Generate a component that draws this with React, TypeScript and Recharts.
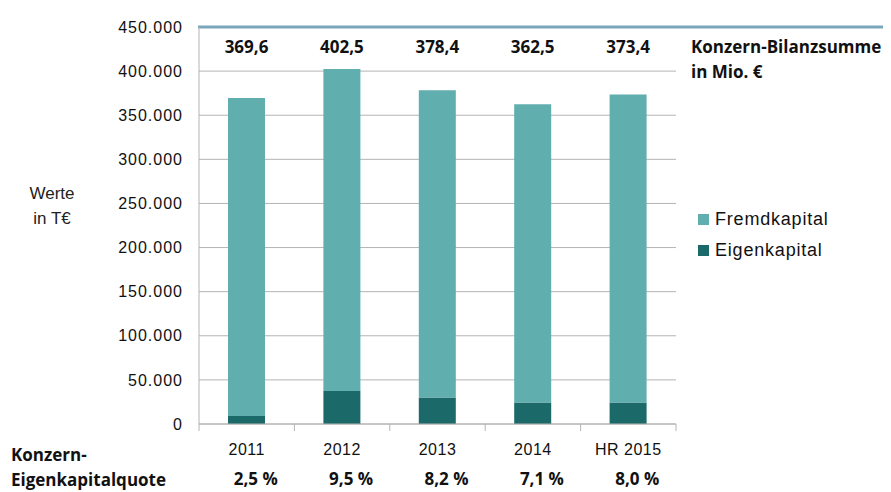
import { BarChart, Bar, XAxis, YAxis, CartesianGrid, Legend, ReferenceLine, LabelList } from 'recharts';

// values (T€ for the bars, Mio. € for the totals)
const years = ['2011', '2012', '2013', '2014', 'HR 2015'];
const totals = [369.6, 402.5, 378.4, 362.5, 373.4];
const eigenkapital = [9000, 37500, 30000, 24500, 24500];
const quoten = ['2,5 %', '9,5 %', '8,2 %', '7,1 %', '8,0 %'];
const yTicks = [0, 50000, 100000, 150000, 200000, 250000, 300000, 350000, 400000, 450000];

const data = years.map((year, i) => ({
  year,
  eigen: eigenkapital[i],
  fremd: Math.round(totals[i] * 1000) - eigenkapital[i],
  total: totals[i].toFixed(1).replace('.', ','),
  quote: quoten[i],
}));

const W = 891;
const H = 492;
const M = { top: 27, right: 215, bottom: 67, left: 0 };
const Y_W = 199;
const SLOT = (W - Y_W - M.right) / years.length;

const FREMD = '#60aeae';
const EIGEN = '#1c6969';
const GRID = '#b4b4b4';
const SANS = '"Liberation Sans", Arial, sans-serif';
const BOLD = '"Open Sans", "Liberation Sans", sans-serif';

const fmt = (v: number) => v.toLocaleString('de-DE');

function XTick(props: any) {
  const { x, y, payload, index } = props;
  const q = data[index]?.quote;
  return (
    <g>
      <line x1={x - SLOT / 2} x2={x - SLOT / 2} y1={y} y2={y + 7} stroke={GRID} />
      {index === years.length - 1 && (
        <line x1={x + SLOT / 2} x2={x + SLOT / 2} y1={y} y2={y + 7} stroke={GRID} />
      )}
      <text x={x} y={y + 31} textAnchor="middle" fontFamily={SANS} fontSize={16} letterSpacing={0.5} fill="#111">
        {payload.value}
      </text>
      <text x={x + 9} y={y + 61} textAnchor="middle" fontFamily={BOLD} fontWeight={700} fontSize={17} fill="#111">
        {q}
      </text>
    </g>
  );
}

function TotalLabel(props: any) {
  const { x, width, value } = props;
  return (
    <text x={x + width / 2} y={53} textAnchor="middle" fontFamily={BOLD} fontWeight={700} fontSize={17} fill="#111">
      {value}
    </text>
  );
}

function TopLine(props: any) {
  const { x1, x2, y1 } = props;
  return <line x1={x1 - 1} x2={x2 + 207} y1={y1} y2={y1} stroke="#7aa5ba" strokeWidth={3} />;
}

function YLabel() {
  return (
    <text fontFamily={SANS} fontSize={17} fill="#222" textAnchor="middle">
      <tspan x={52} y={199}>Werte</tspan>
      <tspan x={52} y={224}>in T€</tspan>
    </text>
  );
}

function LegendBox() {
  const items = [
    { name: 'Fremdkapital', color: FREMD },
    { name: 'Eigenkapital', color: EIGEN },
  ];
  return (
    <div>
      {items.map((it) => (
        <div key={it.name} style={{ display: 'flex', alignItems: 'center', height: 31, fontFamily: SANS, fontSize: 18, letterSpacing: 0.8, color: '#111' }}>
          <span style={{ width: 11, height: 11, background: it.color, marginRight: 6 }} />
          {it.name}
        </div>
      ))}
    </div>
  );
}

export default function App() {
  return (
    <div style={{ position: 'absolute', left: 0, top: 0, width: W, height: H, background: '#fff' }}>
      <BarChart width={W} height={H} data={data} margin={M} barSize={37}>
        <CartesianGrid vertical={false} stroke={GRID} />
        <XAxis
          dataKey="year"
          height={1}
          axisLine={{ stroke: GRID }}
          tickLine={false}
          tickSize={0}
          tickMargin={0}
          tick={<XTick />}
          interval={0}
        />
        <YAxis
          width={Y_W}
          domain={[0, 450000]}
          ticks={yTicks}
          tickFormatter={fmt}
          axisLine={{ stroke: GRID }}
          tickLine={false}
          tickSize={0}
          tickMargin={16}
          tick={{ fontFamily: SANS, fontSize: 16, fill: '#111', letterSpacing: 1 }}
          label={<YLabel />}
        />
        <ReferenceLine y={450000} shape={<TopLine />} />
        <Legend
          layout="vertical"
          align="center"
          verticalAlign="middle"
          content={<LegendBox />}
          wrapperStyle={{ left: 698, top: 204, width: 180 }}
        />
        <Bar dataKey="eigen" name="Eigenkapital" stackId="a" fill={EIGEN} isAnimationActive={false} />
        <Bar dataKey="fremd" name="Fremdkapital" stackId="a" fill={FREMD} isAnimationActive={false}>
          <LabelList dataKey="total" content={<TotalLabel />} />
        </Bar>
      </BarChart>
      <div style={{ position: 'absolute', left: 11, top: 34, fontFamily: BOLD, fontWeight: 700, fontSize: 17, lineHeight: '25px', color: '#111', marginLeft: 680 }}>
        Konzern-Bilanzsumme
        <br />
        in Mio. €
      </div>
      <div style={{ position: 'absolute', left: 11, top: 442, fontFamily: BOLD, fontWeight: 700, fontSize: 17, lineHeight: '25px', color: '#111' }}>
        Konzern-
        <br />
        Eigenkapitalquote
      </div>
    </div>
  );
}
